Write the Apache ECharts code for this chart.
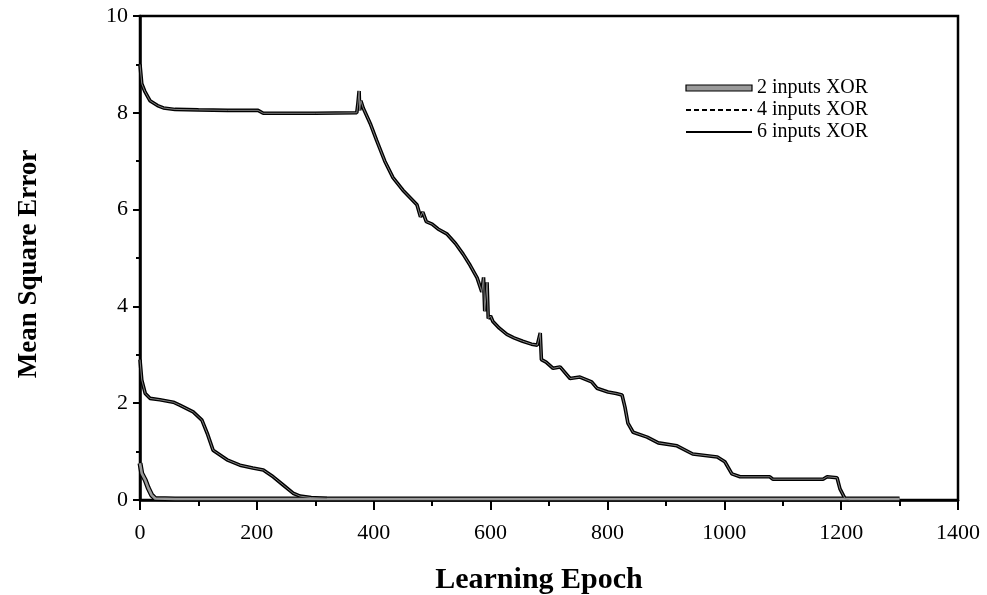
<!DOCTYPE html>
<html>
<head>
<meta charset="utf-8">
<script src="https://cdn.jsdelivr.net/npm/echarts@6/dist/echarts.min.js"></script>
<style>html,body{margin:0;padding:0;background:#fff;}#c{width:987px;height:595px;}</style>
</head>
<body>
<div id="c"></div>
<script>
const seriesNames = ['2 inputs XOR', '4 inputs XOR', '6 inputs XOR'];
const xTicks = [0, 200, 400, 600, 800, 1000, 1200, 1400];
const yTicks = [0, 2, 4, 6, 8, 10];

const xor2 = [[0,0.76],[3,0.55],[9,0.41],[14,0.25],[20,0.1],[26,0.03],[60,0.02],[1300,0.02]];

const xor4 = [[0,2.9],[3,2.48],[9,2.2],[17,2.1],[34,2.07],[57,2.02],[68,1.96],[91,1.82],[106,1.65],[115,1.38],
  [125,1.03],[149,0.83],[171,0.72],[193,0.66],[211,0.62],[228,0.48],[245,0.31],[262,0.14],[274,0.08],[293,0.05],[320,0.03]];

const xor6 = [[0,9.0],[3,8.6],[8,8.45],[17,8.25],[30,8.15],[40,8.1],[60,8.07],[100,8.06],[150,8.05],[202,8.05],
  [211,7.99],[300,7.99],[371,8.0],[373,8.2],[375,8.45],[376,8.05],[378,8.25],[382,8.1],[394,7.78],[405,7.43],
  [419,7.0],[433,6.66],[450,6.4],[474,6.1],[480,5.85],[484,5.95],[490,5.75],[500,5.7],[510,5.6],[525,5.5],
  [540,5.3],[553,5.08],[565,4.85],[577,4.59],[585,4.3],[588,4.6],[590,3.9],[594,4.5],[596,3.75],[600,3.8],
  [604,3.69],[615,3.55],[628,3.42],[640,3.35],[655,3.28],[670,3.22],[680,3.2],[685,3.45],[687,2.9],[695,2.85],
  [707,2.72],[719,2.75],[736,2.51],[753,2.54],[773,2.44],[782,2.31],[801,2.23],[815,2.2],[825,2.17],[830,1.92],
  [835,1.59],[844,1.4],[868,1.3],[887,1.18],[919,1.12],[946,0.95],[988,0.89],[1001,0.79],[1013,0.54],[1027,0.48],
  [1078,0.48],[1083,0.43],[1169,0.43],[1176,0.48],[1193,0.46],[1198,0.23],[1207,0.02],[1215,0.0]];

const allData = [xor2, xor4, xor6];
const outerW = [5, 3.6, 3.6];
const innerW = [2.6, 1.0, 1.0];
const font = 'Liberation Serif';

const series = [];
allData.forEach((d, i) => {
  series.push({
    name: seriesNames[i], type: 'line', data: d, symbol: 'none', z: 2,
    lineStyle: { color: '#000', width: outerW[i] }, animation: false
  });
});
allData.forEach((d, i) => {
  series.push({
    name: seriesNames[i] + ' fill', type: 'line', data: d, symbol: 'none', z: 3,
    lineStyle: { color: i === 0 ? '#9a9a9a' : '#808080', width: innerW[i] }, animation: false, silent: true
  });
});

const chart = echarts.init(document.getElementById('c'));
chart.setOption({
  backgroundColor: '#fff',
  animation: false,
  grid: { left: 140, right: 29, top: 16, bottom: 95, containLabel: false, outerBoundsMode: 'none',
    show: true, borderColor: '#000', borderWidth: 2.5, backgroundColor: 'transparent' },
  legend: {
    left: 680, top: 73, orient: 'vertical', itemWidth: 66, itemHeight: 6, itemGap: 2,
    textStyle: { fontFamily: font, fontSize: 20, color: '#000' },
    data: [
      { name: seriesNames[0], icon: 'rect', itemStyle: { color: '#9a9a9a', borderColor: '#000', borderWidth: 1.2 } },
      { name: seriesNames[1], lineStyle: { type: [5, 3], width: 2, color: '#000' }, itemStyle: { opacity: 0 } },
      { name: seriesNames[2], lineStyle: { type: 'solid', width: 2, color: '#000' }, itemStyle: { opacity: 0 } }
    ]
  },
  xAxis: {
    type: 'value', min: 0, max: 1400, interval: 200,
    name: 'Learning Epoch', nameLocation: 'middle', nameGap: 65,
    nameTextStyle: { fontFamily: font, fontSize: 30, fontWeight: 'bold', color: '#000', padding: [0, 20, 0, 0] },
    axisLine: { show: true, lineStyle: { color: '#000', width: 2.5 } },
    axisTick: { show: true, inside: false, length: 10, lineStyle: { color: '#000', width: 2 } },
    minorTick: { show: true, splitNumber: 2, length: 6, lineStyle: { color: '#000', width: 2 } },
    splitLine: { show: false },
    axisLabel: { fontFamily: font, fontSize: 22, color: '#000', margin: 22,
      formatter: v => xTicks.includes(v) ? String(v) : '' }
  },
  yAxis: {
    type: 'value', min: 0, max: 10, interval: 2,
    name: 'Mean Square Error', nameLocation: 'middle', nameGap: 97,
    nameTextStyle: { fontFamily: font, fontSize: 27, fontWeight: 'bold', color: '#000', padding: [0, 12, 0, 0] },
    axisLine: { show: true, lineStyle: { color: '#000', width: 2.5 } },
    axisTick: { show: true, inside: false, length: 7, lineStyle: { color: '#000', width: 2 } },
    minorTick: { show: true, splitNumber: 2, length: 4, lineStyle: { color: '#000', width: 2 } },
    splitLine: { show: false },
    axisLabel: { fontFamily: font, fontSize: 22, color: '#000', margin: 12,
      formatter: v => yTicks.includes(v) ? String(v) : '' }
  },
  series: series
});
</script>
</body>
</html>
